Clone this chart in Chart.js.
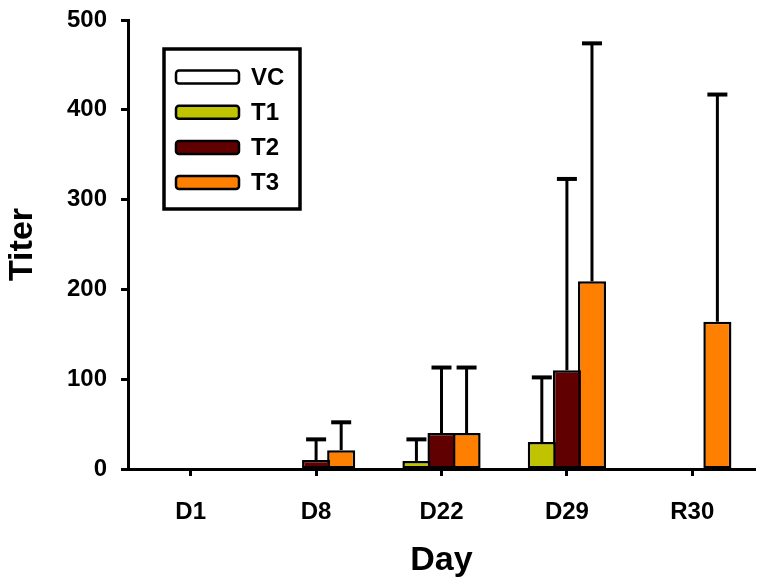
<!DOCTYPE html>
<html>
<head>
<meta charset="utf-8">
<script src="https://cdn.jsdelivr.net/npm/chart.js@4"></script>
<style>
html,body{margin:0;padding:0;background:#fff;}
canvas{display:block;}
</style>
</head>
<body>
<canvas id="c" width="783" height="587"></canvas>
<script>
// ---- data ----
const categories = ['D1', 'D8', 'D22', 'D29', 'R30'];
const seriesNames = ['VC', 'T1', 'T2', 'T3'];
const vcValues = [0, 0, 0, 0, 0];
const t1Values = [0, 0, 9, 30, 0];
const t2Values = [0, 10, 40, 110, 0];
const t3Values = [0, 21, 40, 209, 164];
const vcErrors = [0, 0, 0, 0, 0];
const t1Errors = [0, 0, 24, 72, 0];
const t2Errors = [0, 23, 73, 213, 0];
const t3Errors = [0, 31, 73, 265, 253];
const yTicks = [0, 100, 200, 300, 400, 500];

const FONT = '"Liberation Sans", Arial, sans-serif';
Chart.defaults.color = '#000';
Chart.defaults.font.family = FONT;

const colors = ['#ffffff', '#bfc300', '#600000', '#ff8000'];
const valueSets = [vcValues, t1Values, t2Values, t3Values];
const errorSets = [vcErrors, t1Errors, t2Errors, t3Errors];

const datasets = seriesNames.map((name, i) => ({
  label: name,
  data: valueSets[i],
  errors: errorSets[i],
  backgroundColor: colors[i],
  borderColor: '#000',
  borderWidth: 2.5,
  borderSkipped: false,
  categoryPercentage: 1.0,
  barPercentage: 1.12
}));
// empty fifth slot (as in the original layout, group is offset)
datasets.push({
  label: '',
  data: categories.map(() => null),
  errors: [],
  backgroundColor: 'rgba(0,0,0,0)',
  borderWidth: 0,
  categoryPercentage: 1.0,
  barPercentage: 1.12,
  isSpacer: true
});

const errorBars = {
  id: 'errorBars',
  afterDatasetsDraw(chart) {
    const ctx = chart.ctx;
    const y = chart.scales.y;
    chart.data.datasets.forEach((ds, di) => {
      if (ds.isSpacer) return;
      const meta = chart.getDatasetMeta(di);
      meta.data.forEach((bar, i) => {
        const err = ds.errors[i];
        if (!err) return;
        const v = ds.data[i];
        const top = y.getPixelForValue(v + err);
        const base = y.getPixelForValue(v);
        ctx.save();
        ctx.strokeStyle = '#000';
        ctx.lineWidth = 3;
        ctx.beginPath();
        ctx.moveTo(bar.x, base);
        ctx.lineTo(bar.x, top);
        ctx.stroke();
        ctx.lineWidth = 4;
        ctx.beginPath();
        ctx.moveTo(bar.x - 10, top);
        ctx.lineTo(bar.x + 10, top);
        ctx.stroke();
        ctx.restore();
      });
    });
  }
};

const boxLegend = {
  id: 'boxLegend',
  afterDraw(chart) {
    const ctx = chart.ctx;
    ctx.save();
    ctx.strokeStyle = '#000';
    ctx.lineWidth = 3.5;
    ctx.strokeRect(164, 49, 136, 160);
    const items = chart.data.datasets.filter(d => !d.isSpacer);
    items.forEach((ds, i) => {
      const cy = 77 + i * 35.2;
      ctx.fillStyle = ds.backgroundColor;
      ctx.lineWidth = 2.5;
      ctx.beginPath();
      if (ctx.roundRect) ctx.roundRect(176, cy - 6.5, 63, 13, 3);
      else ctx.rect(176, cy - 6.5, 63, 13);
      ctx.fill();
      ctx.stroke();
      ctx.fillStyle = '#000';
      ctx.font = 'bold 24px ' + FONT;
      ctx.textBaseline = 'middle';
      ctx.textAlign = 'left';
      ctx.fillText(ds.label, 251, cy + 1);
    });
    ctx.restore();
  }
};

new Chart(document.getElementById('c'), {
  type: 'bar',
  data: { labels: categories, datasets },
  options: {
    responsive: false,
    animation: false,
    layout: { padding: { left: 0, right: 28, top: 20, bottom: 0 } },
    plugins: { legend: { display: false }, tooltip: { enabled: false } },
    scales: {
      x: {
        offset: true,
        grid: { display: true, drawOnChartArea: false, drawTicks: true, offset: false,
                tickLength: 7, tickWidth: 3, tickColor: '#000' },
        border: { display: true, color: '#000', width: 3 },
        ticks: { font: { size: 24, weight: 'bold' }, padding: 22, color: '#000' },
        title: { display: true, text: 'Day', font: { size: 34, weight: 'bold' },
                 padding: { top: 0, bottom: 6 }, color: '#000' },
        afterFit(scale) { scale.height = 118; scale.paddingLeft = 0; scale.paddingRight = 0; }
      },
      y: {
        min: 0, max: 500,
        afterBuildTicks(scale) { scale.ticks = yTicks.map(v => ({ value: v })); },
        grid: { display: true, drawOnChartArea: false, drawTicks: true,
                tickLength: 7, tickWidth: 3, tickColor: '#000' },
        border: { display: true, color: '#000', width: 3 },
        ticks: { font: { size: 24, weight: 'bold' }, padding: 14, color: '#000' },
        title: { display: true, text: 'Titer', font: { size: 34, weight: 'bold' },
                 padding: { top: 2, bottom: 0 }, color: '#000' },
        afterFit(scale) { scale.width = 128; scale.paddingTop = 0; scale.paddingBottom = 0; }
      }
    }
  },
  plugins: [errorBars, boxLegend]
});
</script>
</body>
</html>
